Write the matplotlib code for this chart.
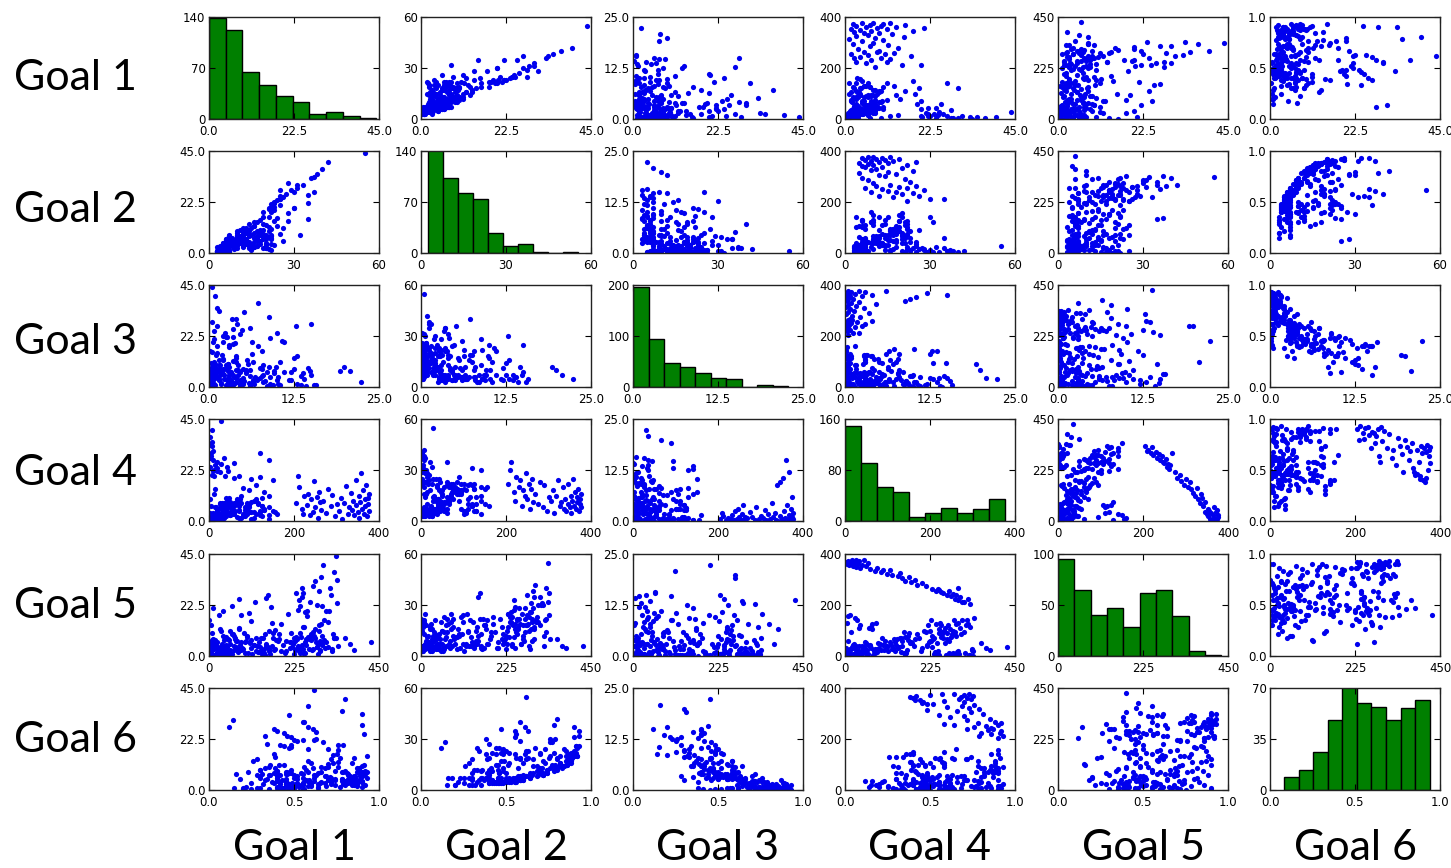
import matplotlib
matplotlib.use('Agg')
import matplotlib.pyplot as plt
from matplotlib import font_manager
import numpy as np

goal_names = ['Goal 1', 'Goal 2', 'Goal 3', 'Goal 4', 'Goal 5', 'Goal 6']

# ---- per-solution goal values (one entry per solution, same order in every list) ----
g1 = [8.0, 15.0, 5.5, 20.0, 3.0, 11.0, 7.0, 12.0, 2.5, 9.5, 4.0, 17.5, 6.0, 10.5, 1.5, 13.0, 8.5, 5.0, 9.0, 3.5,
      14.0, 6.5, 11.5, 2.0, 7.5, 4.5, 10.0, 1.0, 8.0, 15.5, 3.0, 6.0, 12.5, 5.0, 9.0, 2.5, 7.0, 18.0, 4.0, 11.0,
      1.5, 8.5, 21.0, 5.5, 13.5, 3.0, 9.5, 6.5, 16.0, 2.0, 10.0, 7.5, 4.5, 12.0,
      1.0, 2.5, 0.5, 4.0, 3.0, 6.5, 2.0, 5.0, 1.5, 7.5, 3.5, 0.8, 4.0, 4.5, 2.0, 5.5, 0.3, 6.0, 3.0, 7.0,
      1.0, 7.0, 2.5, 5.5, 18.0, 0.6, 9.0, 4.0, 1.2, 3.2, 11.0, 0.9, 6.0, 2.8, 20.0, 1.8, 4.2, 3.0, 0.4,
      2.0, 5.5, 1.0, 8.0, 3.5, 12.0, 0.7, 4.5, 6.5, 2.5, 9.5, 1.5, 6.5, 3.0, 7.5, 0.5, 22.0, 4.0, 5.0, 1.8,
      2.5, 2.2, 6.0, 9.0, 3.8, 0.9, 25.0, 7.0, 4.8,
      3.0, 8.5, 1.2, 3.5, 5.0, 2.0, 19.0, 4.2, 10.0, 0.8, 6.8, 24.0, 3.5, 7.2, 1.5, 1.8, 5.8,
      4.0, 25.5, 27.0, 2.5, 1.5, 1.0, 14.5, 6.2, 3.3, 8.0, 7.8, 0.6, 11.0, 5.2, 21.5, 2.8, 8.0, 1.6, 4.0, 4.6, 9.8,
      3.0, 2.0, 6.5, 1.5, 18.5, 5.0, 9.5, 2.2, 6.0, 7.0,
      4.0, 3.0, 22.0, 8.0, 1.5, 30.0, 4.5, 6.0, 19.5, 2.8, 3.2, 24.5, 5.5, 13.0, 3.5, 5.0, 7.5, 26.0, 1.0, 1.5,
      20.5, 8.5, 28.0, 28.0, 10.0, 2.0, 7.5, 6.5, 10.0,
      5.0, 35.0, 7.0, 22.5, 3.0, 28.5, 8.0, 8.5, 1.0, 22.0, 3.0, 24.0, 6.5, 6.0, 2.5, 40.0, 13.5, 9.0, 20.0, 4.0,
      14.0, 7.5, 2.2, 33.0, 31.0, 5.5, 9.0,
      44.0, 37.0, 30.0, 6.0, 23.5, 4.0, 2.0, 33.5, 16.0, 8.0, 20.0, 4.5, 9.5, 3.5, 27.0, 8.0,
      8.0, 5.5, 2.5, 6.0]

g2 = [22, 35, 17, 30, 12, 26, 20, 24, 9, 18, 15, 28, 13, 22, 7, 19, 25, 11, 16, 10,
      23, 8, 21, 6, 14, 12, 18, 5, 15, 24, 9, 11, 20, 7, 13, 6, 10, 22, 8, 15,
      5, 12, 25, 9, 17, 7, 14, 11, 19, 6, 13, 10, 8, 16,
      3, 4, 5, 6, 8, 7, 10, 12, 4, 7, 14, 3, 15, 5, 6, 18, 3, 6, 4, 21,
      7, 7, 16, 6, 19, 4, 13, 20, 5, 9, 12, 6, 22, 3, 21, 6, 10, 17, 5,
      5, 7, 4, 14, 6, 16, 3, 11, 7, 12, 10, 7, 19, 5, 22, 3, 23, 13, 6, 9,
      15, 4, 17, 18, 6, 5, 25, 20, 7,
      7, 12, 4, 20, 6, 14, 23, 6, 11, 3, 16, 25, 10, 7, 5, 21, 13,
      8, 35, 37, 6, 15, 4, 18, 11, 5, 18, 20, 7, 13, 9, 22, 16, 7, 6, 22, 5, 17,
      7, 19, 10, 5, 22, 14, 12, 5, 17, 7,
      9, 17, 23, 12, 5, 33, 20, 7, 21, 15, 16, 26, 10, 14, 6, 16, 11, 27, 4, 22,
      23, 18, 25, 29, 13, 20, 17, 7, 19,
      10, 38, 12, 23, 7, 31, 18, 19, 4, 35, 14, 25, 22, 19, 9, 42, 16, 18, 22, 6,
      28, 7, 20, 36, 28, 26, 10,
      55, 40, 31, 20, 24, 18, 6, 37, 21, 14, 30, 10, 21, 23, 30, 32,
      10, 6, 5, 6]

g3 = [0.5, 1.2, 0.3, 2.0, 0.1, 0.8, 0.4, 1.5, 0.2, 2.5, 0.6, 3.0, 0.9, 0.3, 1.8, 4.0, 0.5, 1.1, 0.7, 2.2,
      1.0, 0.2, 3.5, 0.4, 1.3, 0.8, 2.8, 0.2, 1.6, 0.5, 4.5, 0.9, 2.0, 0.3, 8.8, 0.1, 9.5, 1.2, 0.6, 10.5,
      0.3, 2.5, 0.8, 15.0, 4.0, 0.4, 1.5, 12.0, 0.2, 3.0, 0.9, 6.0, 0.5, 2.0,
      2.5, 5.0, 3.4, 4.0, 0.3, 3.2, 0.5, 1.0, 6.0, 2.0, 0.2, 3.5, 7.5, 9.0, 2.9, 4.3, 14.2, 5.5, 12.0, 2.8,
      0.9, 14.8, 0.1, 8.0, 7.2, 4.5, 3.0, 0.3, 13.0, 1.4, 6.5, 2.6, 0.4, 8.3, 11.0, 3.8, 0.6, 10.0, 6.1,
      3.9, 3.5, 9.4, 2.0, 7.0, 5.6, 15.5, 1.1, 11.0, 0.3, 4.2, 5.0, 3.1, 2.6, 0.2, 8.5, 2.7, 0.5, 6.0, 1.7,
      3.3, 7.9, 0.1, 9.8, 2.9, 15.8, 4.8, 1.3, 13.5,
      6.4, 14.6, 4.5, 1.4, 7.8, 0.2, 3.6, 3.7, 5.8, 10.5, 0.5, 2.4, 3.0, 20.8, 8.9, 0.3, 2.1,
      2.8, 3.5, 1.2, 5.2, 0.7, 3.1, 6.3, 1.8, 11.8, 2.6, 0.2, 9.2, 4.0, 0.5, 9.0, 0.1, 12.5, 5.9, 0.6, 6.8, 1.6,
      3.2, 0.5, 4.5, 10.1, 3.0, 0.3, 8.0, 22.3, 0.7, 5.5,
      0.9, 0.4, 2.5, 5.0, 6.6, 3.4, 0.6, 9.5, 3.8, 0.2, 7.0, 0.8, 2.2, 12.5, 14.0, 1.5, 4.2, 6.0, 3.0, 0.3,
      10.8, 1.0, 15.0, 4.1, 0.7, 0.1, 5.5, 8.5, 2.8,
      0.8, 1.2, 19.2, 2.0, 4.8, 0.5, 0.3, 7.5, 13.6, 3.5, 0.6, 10.0, 0.2, 1.6, 2.8, 0.9, 13.0, 0.4, 6.3, 5.0,
      1.9, 3.9, 0.5, 5.2, 8.8, 0.1, 19.8,
      0.5, 7.2, 4.0, 0.2, 4.5, 0.4, 3.2, 1.5, 7.8, 0.9, 0.6, 10.2, 2.6, 0.3, 12.8, 0.1,
      7.8, 3.0, 6.5, 13.8]

g4 = [205, 212, 218, 210, 222, 224, 230, 234, 238, 241, 245, 248, 250, 253, 256, 259, 261, 263, 268, 275,
      280, 286, 290, 296, 300, 305, 310, 314, 318, 322, 326, 330, 333, 336, 338, 342, 345, 347, 350, 352,
      354, 356, 358, 360, 362, 364, 366, 368, 370, 372, 374, 375, 376, 377,
      5, 12, 3, 20, 8, 28, 15, 35, 2, 25, 10, 6, 30, 18, 40, 22, 1, 45, 12, 60,
      4, 95, 7, 130, 150, 14, 110, 155, 32, 160, 140, 0, 16, 26, 38, 9, 120, 48, 2,
      15, 22, 8, 30, 18, 12, 25, 40, 5, 28, 110, 35, 125, 20, 115, 10, 45, 32, 130, 24,
      50, 38, 14, 42, 105, 6, 28, 55, 20,
      30, 45, 22, 38, 55, 28, 60, 33, 48, 18, 70, 42, 52, 35, 25, 65, 40,
      45, 60, 10, 30, 70, 12, 80, 55, 8, 90, 65, 15, 75, 40, 25, 50, 35, 20, 95, 62, 72,
      55, 85, 40, 20, 100, 70, 65, 30, 95, 50,
      120, 80, 10, 60, 105, 5, 70, 45, 120, 140, 90, 15, 55, 130, 2, 85, 65, 18, 100, 75,
      8, 50, 35, 2, 40, 8, 95, 60, 125,
      130, 8, 90, 12, 110, 5, 75, 100, 140, 20, 60, 2, 125, 85, 120, 6, 95, 105, 70, 100,
      15, 50, 80, 8, 10, 90, 65,
      28, 3, 120, 140, 18, 95, 125, 1, 110, 115, 12, 150, 2, 85, 140, 25,
      50, 30, 22, 35]

g5 = [330, 315, 300, 310, 325, 290, 305, 280, 295, 270, 285, 260, 255, 275, 240, 250, 230, 245, 300, 215,
      190, 205, 175, 160, 185, 150, 170, 140, 125, 110, 145, 95, 80, 120, 100, 65, 40, 85, 30, 55,
      20, 45, 10, 35, 5, 25, 60, 15, 0, 38, 8, 50, 18, 28,
      2, 8, 15, 5, 22, 12, 30, 18, 40, 10, 35, 25, 3, 38, 28, 14, 6, 20, 32, 9,
      42, 16, 24, 4, 26, 11, 36, 7, 21, 13, 33, 19, 1, 29, 37, 4, 41, 23, 34,
      48, 55, 62, 70, 45, 80, 58, 66, 74, 84, 63, 50, 72, 78, 68, 52, 60, 47, 82, 76,
      56, 44, 86, 65, 71, 59, 79, 53, 46,
      90, 100, 95, 110, 118, 125, 105, 128, 92, 115, 98, 122, 88, 112, 102, 130, 108,
      135, 150, 155, 140, 145, 162, 168, 132, 158, 170, 138, 147, 160, 152, 165, 172, 143, 133, 157, 166, 148,
      175, 190, 182, 200, 210, 195, 185, 205, 214, 178,
      220, 230, 240, 225, 250, 245, 235, 218, 255, 228, 248, 238, 222, 252, 242, 258, 232, 246, 226, 254,
      236, 244, 230, 250, 217, 239, 256, 228, 242,
      298, 296, 270, 285, 265, 292, 280, 262, 288, 300, 275, 268, 295, 283, 272, 302, 290, 278, 260, 286,
      297, 266, 293, 281, 276, 289, 271,
      335, 330, 320, 310, 340, 315, 325, 338, 305, 330, 318, 342, 328, 308, 322, 336,
      360, 372, 385, 430]

g6 = [0.90, 0.93, 0.86, 0.79, 0.80, 0.91, 0.92, 0.84, 0.72, 0.87, 0.86, 0.76, 0.83, 0.90, 0.64, 0.58, 0.92, 0.78, 0.88, 0.72,
      0.85, 0.62, 0.70, 0.55, 0.81, 0.74, 0.66, 0.48, 0.79, 0.73, 0.60, 0.69, 0.76, 0.52, 0.48, 0.45, 0.46, 0.70, 0.58, 0.44,
      0.41, 0.74, 0.67, 0.40, 0.72, 0.38, 0.68, 0.42, 0.75, 0.50, 0.70, 0.64, 0.57, 0.73,
      0.30, 0.45, 0.55, 0.40, 0.68, 0.35, 0.74, 0.78, 0.42, 0.38, 0.83, 0.28, 0.45, 0.33, 0.60, 0.62, 0.35, 0.52, 0.25, 0.55,
      0.64, 0.40, 0.86, 0.30, 0.58, 0.47, 0.57, 0.90, 0.22, 0.65, 0.36, 0.50, 0.90, 0.32, 0.48, 0.60, 0.71, 0.49, 0.56,
      0.52, 0.50, 0.48, 0.66, 0.37, 0.60, 0.20, 0.70, 0.28, 0.79, 0.39, 0.47, 0.63, 0.55, 0.88, 0.20, 0.50, 0.80, 0.34, 0.69,
      0.51, 0.46, 0.85, 0.30, 0.58, 0.44, 0.44, 0.82, 0.18,
      0.55, 0.40, 0.40, 0.90, 0.45, 0.84, 0.48, 0.59, 0.35, 0.15, 0.82, 0.46, 0.66, 0.16, 0.53, 0.87, 0.71,
      0.62, 0.63, 0.61, 0.42, 0.77, 0.44, 0.39, 0.68, 0.46, 0.58, 0.90, 0.25, 0.41, 0.72, 0.52, 0.87, 0.23, 0.58, 0.78, 0.43, 0.88,
      0.60, 0.80, 0.50, 0.50, 0.47, 0.84, 0.33, 0.45, 0.86, 0.45,
      0.72, 0.86, 0.62, 0.45, 0.50, 0.56, 0.88, 0.30, 0.44, 0.86, 0.52, 0.91, 0.70, 0.26, 0.42, 0.82, 0.48, 0.40, 0.43, 0.90,
      0.34, 0.80, 0.12, 0.58, 0.76, 0.92, 0.47, 0.36, 0.56,
      0.74, 0.78, 0.31, 0.63, 0.45, 0.90, 0.87, 0.40, 0.40, 0.55, 0.82, 0.33, 0.91, 0.89, 0.64, 0.80, 0.28, 0.88, 0.42, 0.58,
      0.77, 0.54, 0.85, 0.47, 0.14, 0.93, 0.30,
      0.62, 0.58, 0.55, 0.90, 0.48, 0.88, 0.53, 0.90, 0.38, 0.78, 0.76, 0.40, 0.61, 0.90, 0.38, 0.93,
      0.46, 0.55, 0.47, 0.40]

# ---- histogram bin counts (10 bins each) and bin ranges ----
hist1 = [138, 122, 64, 47, 32, 23, 7, 9, 4, 1]
hist2 = [145, 103, 83, 74, 27, 10, 12, 1, 0, 1]
hist3 = [196, 95, 48, 39, 27, 18, 16, 0, 3, 1]
hist4 = [149, 91, 54, 46, 6, 12, 21, 13, 19, 34]
hist5 = [95, 65, 40, 47, 28, 62, 65, 39, 5, 1]
hist6 = [9, 14, 26, 48, 72, 60, 57, 48, 56, 62]
hist_lo = [0.0, 2.5, 0.0, 0.0, 0.0, 0.082]
hist_hi = [44.3, 55.5, 22.8, 377, 432, 0.94]
hist_ymax = [140, 140, 200, 160, 100, 70]
hist_yticklabels = [['0', '70', '140'], ['0', '70', '140'], ['0', '100', '200'],
                    ['0', '80', '160'], ['0', '50', '100'], ['0', '35', '70']]

# ---- axis ranges and tick labels per goal ----
axis_max = [45.0, 60.0, 25.0, 400.0, 450.0, 1.0]
axis_ticklabels = [['0.0', '22.5', '45.0'], ['0', '30', '60'], ['0.0', '12.5', '25.0'],
                   ['0', '200', '400'], ['0', '225', '450'], ['0.0', '0.5', '1.0']]

goals = [g1, g2, g3, g4, g5, g6]
hists = [hist1, hist2, hist3, hist4, hist5, hist6]

# ---- fonts ----
available = {f.name for f in font_manager.fontManager.ttflist}
tick_family = 'Liberation Sans Narrow' if 'Liberation Sans Narrow' in available else 'DejaVu Sans'
label_family = 'Lato' if 'Lato' in available else 'DejaVu Sans'

W, H = 1451, 868
fig = plt.figure(figsize=(W / 100, H / 100), dpi=100)
fig.patch.set_facecolor('white')

lefts = [209, 421, 633, 845, 1058, 1270]
tops = [17, 151, 285, 419, 554, 688]
aw, ah = 170, 102

for i in range(6):          # row: x-axis goal
    for j in range(6):      # column: y-axis goal
        ax = fig.add_axes([lefts[j] / W, 1 - (tops[i] + ah) / H, aw / W, ah / H])
        xmax = axis_max[i]
        if i == j:
            edges = np.linspace(hist_lo[i], hist_hi[i], len(hists[i]) + 1)
            ax.bar(edges[:-1], hists[i], width=np.diff(edges), align='edge',
                   color='#007f00', edgecolor='black', linewidth=1.0)
            ymax = hist_ymax[i]
            ylabels = hist_yticklabels[i]
        else:
            ax.scatter(goals[i], goals[j], s=14, c='#0000ee', linewidths=0)
            ymax = axis_max[j]
            ylabels = axis_ticklabels[j]
        ax.set_xlim(0, xmax)
        ax.set_ylim(0, ymax)
        ax.set_xticks([0, xmax / 2, xmax])
        ax.set_xticklabels(axis_ticklabels[i])
        ax.set_yticks([0, ymax / 2, ymax])
        ax.set_yticklabels(ylabels)
        ax.tick_params(direction='in', top=True, right=True, length=4, width=0.8,
                       labelsize=8.5)
        ax.tick_params(axis='x', pad=4.5)
        ax.tick_params(axis='y', pad=2.5)
        for lab in ax.get_xticklabels() + ax.get_yticklabels():
            lab.set_family(tick_family)
        for sp in ax.spines.values():
            sp.set_linewidth(1.0)
            sp.set_color('#222222')

row_label_y = [78, 210, 342, 473, 606, 740]
for i in range(6):
    fig.text(75 / W, 1 - row_label_y[i] / H, goal_names[i], ha='center', va='center',
             fontsize=31, family=label_family)
for j in range(6):
    fig.text((lefts[j] + aw / 2) / W, 1 - 848 / H, goal_names[j], ha='center', va='center',
             fontsize=31, family=label_family)

fig.savefig('out.png', dpi=100, facecolor='white')
